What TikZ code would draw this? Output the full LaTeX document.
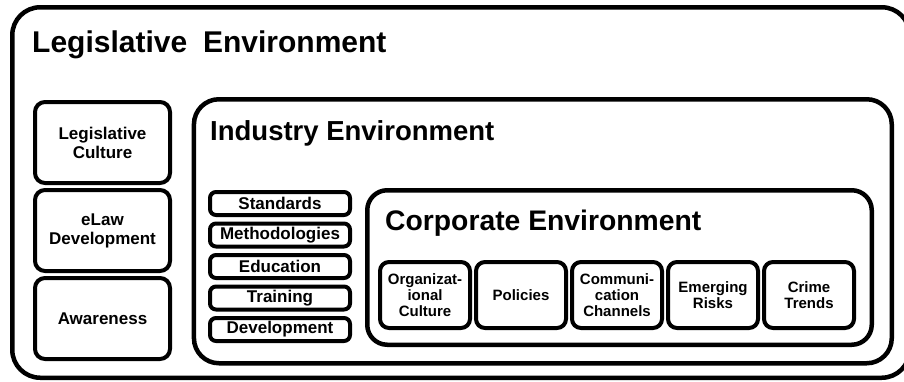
\documentclass[tikz,border=0pt]{standalone}
\usepackage{fontspec}
\setmainfont{Liberation Sans}
\usepackage{tikz}
\usetikzlibrary{positioning}

\begin{document}
\begin{tikzpicture}[
    x=1pt, y=-1pt,
    envbox/.style={rectangle, draw, line width=4.5pt, inner sep=0pt, anchor=north west},
    envtitle/.style={anchor=base west, inner sep=0pt, font=\fontsize{28.3}{34}\selectfont\bfseries},
    legbox/.style={rectangle, draw, line width=4pt, rounded corners=10pt, minimum width=135pt, minimum height=81pt, inner sep=1pt, align=center, font=\fontsize{17}{19}\selectfont\bfseries},
    indbox/.style={rectangle, draw, line width=4pt, rounded corners=6pt, minimum width=140pt, minimum height=23pt, inner sep=0pt, align=center, font=\fontsize{17}{19}\selectfont\bfseries},
    corpbox/.style={rectangle, draw, line width=4pt, rounded corners=9pt, minimum width=90pt, minimum height=66pt, inner sep=0pt, align=center, font=\fontsize{15}{16}\selectfont\bfseries}
]
    \useasboundingbox (0,0) rectangle (904,381);

    % Environments
    \node[envbox, rounded corners=28pt, minimum width=897.5pt, minimum height=370.5pt] (legenv) at (10,5) {};
    \node[envtitle, font=\fontsize{30}{36}\selectfont\bfseries] (legtitle) at (32,52) {Legislative\hspace{0.25em} Environment};
    \node[envbox, rounded corners=25pt, minimum width=697.8pt, minimum height=264pt] (indenv) at (191.7,97) {};
    \node[envtitle, font=\fontsize{27.5}{33}\selectfont\bfseries] (indtitle) at (210,140) {Industry Environment};
    \node[envbox, rounded corners=20pt, minimum width=504.5pt, minimum height=154.5pt] (corpenv) at (365,188) {};
    \node[envtitle] (corptitle) at (385,230) {Corporate Environment};

    % Legislative components
    \node[legbox, anchor=north west] (culture) at (33,100) {Legislative\\Culture};
    \node[legbox, below=3pt of culture] (elaw) {eLaw\\Development};
    \node[legbox, below=3pt of elaw] (aware) {Awareness};

    % Industry components
    \node[indbox, anchor=north west] (standards) at (208,190) {Standards};
    \node[indbox, below=4.5pt of standards] (methods) {Methodologies};
    \node[indbox, below=4.5pt of methods] (education) {Education};
    \node[indbox, below=4.5pt of education] (training) {Training};
    \node[indbox, below=4.5pt of training] (develop) {Development};

    % Corporate components
    \node[corpbox, anchor=north west] (orgcult) at (378,260) {Organizat-\\ional\\Culture};
    \node[corpbox, right=2pt of orgcult] (policies) {Policies};
    \node[corpbox, right=2pt of policies] (commch) {Communi-\\cation\\Channels};
    \node[corpbox, right=2pt of commch] (risks) {Emerging\\Risks};
    \node[corpbox, right=2pt of risks] (crime) {Crime\\Trends};
\end{tikzpicture}
\end{document}
